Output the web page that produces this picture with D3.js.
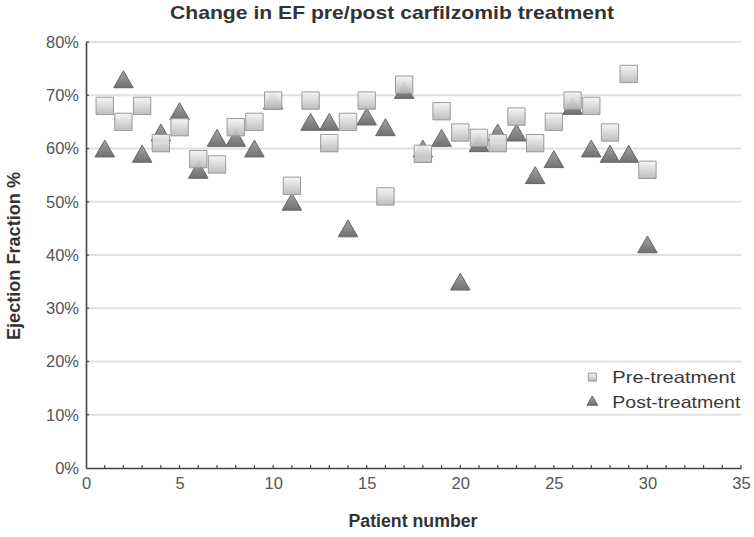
<!DOCTYPE html>
<html>
<head>
<meta charset="utf-8">
<script src="https://cdn.jsdelivr.net/npm/d3@7"></script>
<style>
  body { margin: 0; background: #fff; }
  text { font-family: "Liberation Sans", Arial, sans-serif; }
</style>
</head>
<body>
<svg id="chart" width="754" height="537"></svg>
<script>
(function () {
  'use strict';

  // Patient numbers and EF values (%)
  const patients = d3.range(1, 31);
  const preTreatment = [68, 65, 68, 61, 64, 58, 57, 64, 65, 69,
                        53, 69, 61, 65, 69, 51, 72, 59, 67, 63,
                        62, 61, 66, 61, 65, 69, 68, 63, 74, 56];
  const postTreatment = [60, 73, 59, 63, 67, 56, 62, 62, 60, 69,
                         50, 65, 65, 45, 66, 64, 71, 60, 62, 35,
                         61, 63, 63, 55, 58, 68, 60, 59, 59, 42];
  const xTicks = [0, 5, 10, 15, 20, 25, 30, 35];
  const yTicks = [0, 10, 20, 30, 40, 50, 60, 70, 80];
  const seriesNames = ['Pre-treatment', 'Post-treatment'];

  const svg = d3.select('#chart');
  const margin = {top: 42, right: 13, bottom: 69, left: 86};
  const width = 754 - margin.left - margin.right;
  const height = 537 - margin.top - margin.bottom;

  const defs = svg.append('defs');
  const sqGrad = defs.append('linearGradient').attr('id', 'sqGrad')
    .attr('x1', 0).attr('y1', 0).attr('x2', 0).attr('y2', 1);
  sqGrad.append('stop').attr('offset', '0%').attr('stop-color', '#f6f6f6');
  sqGrad.append('stop').attr('offset', '100%').attr('stop-color', '#b8b8b8');
  const triGrad = defs.append('linearGradient').attr('id', 'triGrad')
    .attr('x1', 0).attr('y1', 0).attr('x2', 0).attr('y2', 1);
  triGrad.append('stop').attr('offset', '0%').attr('stop-color', '#a4a4a4');
  triGrad.append('stop').attr('offset', '100%').attr('stop-color', '#707070');

  const g = svg.append('g').attr('transform', `translate(${margin.left},${margin.top})`);

  const x = d3.scaleLinear().domain([0, 35]).range([0, width]);
  const y = d3.scaleLinear().domain([0, 80]).range([height, 0]);

  // gridlines
  g.append('g').selectAll('line')
    .data(yTicks.filter(d => d > 0))
    .join('line')
    .attr('x1', 0).attr('x2', width)
    .attr('y1', d => y(d)).attr('y2', d => y(d))
    .attr('stroke', '#e0e0e0').attr('stroke-width', 2);

  // x axis
  const xAxis = g.append('g').attr('transform', `translate(0,${height})`)
    .call(d3.axisBottom(x).tickValues(xTicks).tickSize(0).tickPadding(9));
  xAxis.select('.domain').attr('stroke', '#444').attr('stroke-width', 1.6);
  xAxis.selectAll('text').attr('font-size', 16.5).attr('fill', '#555');
  xAxis.append('g').selectAll('line')
    .data(d3.range(1, 36))
    .join('line')
    .attr('x1', d => x(d)).attr('x2', d => x(d))
    .attr('y1', 0).attr('y2', -3)
    .attr('stroke', '#444').attr('stroke-width', 1.2);

  // y axis
  const yAxis = g.append('g')
    .call(d3.axisLeft(y).tickValues(yTicks).tickSize(0).tickPadding(7)
      .tickFormat(d => d + '%'));
  yAxis.select('.domain').attr('stroke', '#444').attr('stroke-width', 1.6);
  yAxis.selectAll('text').attr('font-size', 16.5).attr('fill', '#555');
  yAxis.append('g').selectAll('line')
    .data(yTicks.filter(d => d > 0))
    .join('line')
    .attr('x1', 0).attr('x2', 3)
    .attr('y1', d => y(d)).attr('y2', d => y(d))
    .attr('stroke', '#444').attr('stroke-width', 1.2);

  const square = d3.symbol().type(d3.symbolSquare).size(300);
  const triSize = 165;
  const triangle = d3.symbol().type(d3.symbolTriangle).size(triSize);
  // d3 centres the triangle on its centroid; move it so the box centre sits on the value
  const triShift = Math.sqrt(triSize / (3 * Math.sqrt(3))) / 2;

  // post-treatment triangles (drawn first, squares on top)
  g.append('g').selectAll('path')
    .data(patients)
    .join('path')
    .attr('d', triangle)
    .attr('transform', (d, i) => `translate(${x(d)},${y(postTreatment[i]) + triShift})`)
    .attr('fill', 'url(#triGrad)')
    .attr('stroke', '#666').attr('stroke-width', 1);

  g.append('g').selectAll('path')
    .data(patients)
    .join('path')
    .attr('d', square)
    .attr('transform', (d, i) => `translate(${x(d)},${y(preTreatment[i])})`)
    .attr('fill', 'url(#sqGrad)')
    .attr('stroke', '#9a9a9a').attr('stroke-width', 1)
    .attr('fill-opacity', 0.92);

  // legend
  const legend = g.append('g').attr('transform', `translate(${x(26.2)},${y(19.5)})`);
  legend.append('rect')
    .attr('x', 0).attr('y', 0).attr('width', 160).attr('height', 48)
    .attr('fill', '#fff');
  seriesNames.forEach((name, i) => {
    const row = legend.append('g').attr('transform', `translate(0,${13 + i * 25})`);
    row.append('path')
      .attr('d', i === 0 ? d3.symbol().type(d3.symbolSquare).size(64)()
                         : d3.symbol().type(d3.symbolTriangle).size(50)())
      .attr('transform', 'translate(16,0)')
      .attr('fill', i === 0 ? 'url(#sqGrad)' : 'url(#triGrad)')
      .attr('stroke', i === 0 ? '#999' : '#666');
    row.append('text')
      .attr('x', 36).attr('y', 6)
      .attr('font-size', 16.5).attr('fill', '#3a3a3a')
      .attr('textLength', i === 0 ? 123 : 128)
      .attr('lengthAdjust', 'spacingAndGlyphs')
      .text(name);
  });

  // titles
  svg.append('text')
    .attr('x', 392).attr('y', 19)
    .attr('text-anchor', 'middle')
    .attr('font-size', 18.5).attr('font-weight', 'bold').attr('fill', '#333')
    .attr('textLength', 444).attr('lengthAdjust', 'spacingAndGlyphs')
    .text('Change in EF pre/post carfilzomib treatment');

  svg.append('text')
    .attr('x', 413).attr('y', 527)
    .attr('text-anchor', 'middle')
    .attr('font-size', 17.5).attr('font-weight', 'bold').attr('fill', '#333')
    .attr('textLength', 129).attr('lengthAdjust', 'spacingAndGlyphs')
    .text('Patient number');

  svg.append('text')
    .attr('transform', `translate(20,${256}) rotate(-90)`)
    .attr('text-anchor', 'middle')
    .attr('font-size', 17.5).attr('font-weight', 'bold').attr('fill', '#333')
    .attr('textLength', 168).attr('lengthAdjust', 'spacingAndGlyphs')
    .text('Ejection Fraction %');
}());
</script>
</body>
</html>
